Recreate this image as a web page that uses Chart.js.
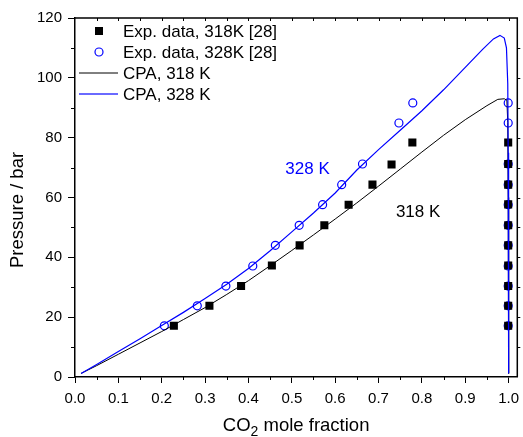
<!DOCTYPE html>
<html>
<head>
<meta charset="utf-8">
<script src="https://cdn.jsdelivr.net/npm/chart.js@4.4.1/dist/chart.umd.min.js"></script>
<style>
  html, body { margin: 0; padding: 0; background: #fff; }
  #wrap { width: 523px; height: 437px; }
</style>
</head>
<body>
<div id="wrap"><canvas id="vleChart" width="523" height="437"></canvas></div>
<script>
// experimental data, liquid side
const liq318X = [0.228, 0.310, 0.383, 0.454, 0.518, 0.575, 0.631, 0.686, 0.730, 0.778];
const liq318P = [17.1, 23.8, 30.4, 37.3, 44.0, 50.7, 57.6, 64.3, 71.0, 78.4];
const liq328X = [0.206, 0.282, 0.348, 0.410, 0.462, 0.517, 0.571, 0.615, 0.663, 0.747, 0.779];
const liq328P = [17.1, 23.8, 30.4, 37.1, 44.0, 50.7, 57.6, 64.3, 71.2, 84.9, 91.6];

// experimental data, vapour side
const vap318X = [0.999, 0.999, 0.999, 0.999, 0.999, 0.999, 0.999, 0.999, 0.999, 0.999];
const vap318P = [17.1, 23.8, 30.4, 37.3, 44.0, 50.7, 57.7, 64.3, 71.2, 78.4];
const vap328X = [0.999, 0.999, 0.999, 0.999, 0.999, 0.999, 0.999, 0.999, 0.999, 0.999, 0.999];
const vap328P = [17.1, 23.8, 30.4, 37.1, 44.0, 50.7, 57.6, 64.3, 71.2, 84.9, 91.6];

// CPA model curves
const cpa318X = [0.014, 0.05, 0.1, 0.15, 0.2, 0.25, 0.3, 0.35, 0.4, 0.45, 0.5, 0.55, 0.6, 0.65, 0.7, 0.75, 0.8, 0.85, 0.9, 0.95, 0.975, 0.99, 0.996, 0.998, 0.999, 1.0];
const cpa318P = [1.2, 3.8, 7.6, 11.4, 15.2, 19.2, 23.2, 27.6, 32.2, 37.2, 42.3, 47.5, 52.8, 58.2, 63.8, 69.5, 75.2, 80.8, 86.0, 90.7, 92.8, 93.0, 92.5, 85, 60, 1.2];
const cpa328X = [0.014, 0.05, 0.1, 0.15, 0.2, 0.25, 0.3, 0.35, 0.4, 0.45, 0.5, 0.55, 0.6, 0.65, 0.7, 0.75, 0.8, 0.85, 0.9, 0.94, 0.965, 0.98, 0.99, 0.995, 0.998, 0.999, 1.0];
const cpa328P = [1.2, 4.2, 8.5, 12.8, 17.2, 21.6, 26.2, 31.0, 36.3, 42.2, 48.5, 54.8, 61.5, 69.2, 76.0, 82.5, 89.0, 96.0, 103.5, 109.5, 113.0, 114.2, 113.3, 110.0, 98, 75, 1.2];

const legendLabels = ['Exp. data, 318K [28]', 'Exp. data, 328K [28]', 'CPA, 318 K', 'CPA, 328 K'];
const xTitle = ['CO', '2', ' mole fraction'];
const yTitle = 'Pressure / bar';

const FONT = 'Arial, "Liberation Sans", sans-serif';
const BLUE = '#0000ff';

function pts(xs, ys) {
    return xs.map((x, i) => ({ x: x, y: ys[i] }));
}

// frame, minor ticks, titles, legend and curve labels
const decorPlugin = {
    id: 'decor',
    afterDraw(chart) {
        const ctx = chart.ctx;
        const a = chart.chartArea;
        const xs = chart.scales.x;
        const ys = chart.scales.y;
        ctx.save();

        // top and right frame
        ctx.strokeStyle = '#000';
        ctx.lineWidth = 1.5;
        ctx.beginPath();
        ctx.moveTo(a.left, a.top);
        ctx.lineTo(a.right, a.top);
        ctx.lineTo(a.right, a.bottom);
        ctx.stroke();

        // minor ticks
        ctx.lineWidth = 1;
        ctx.beginPath();
        for (let v = 0.05; v < 1.0; v += 0.1) {
            const px = Math.round(xs.getPixelForValue(v)) + 0.5;
            ctx.moveTo(px, a.bottom);
            ctx.lineTo(px, a.bottom + 3);
        }
        for (let v = 10; v < 120; v += 20) {
            const py = Math.round(ys.getPixelForValue(v)) + 0.5;
            ctx.moveTo(a.left, py);
            ctx.lineTo(a.left - 4, py);
        }
        // top ticks (inward) and right ticks (outward)
        for (let v = 0.05; v < 1.02; v += 0.05) {
            const px = Math.round(xs.getPixelForValue(v)) + 0.5;
            ctx.moveTo(px, a.top);
            ctx.lineTo(px, a.top + 3);
        }
        for (let v = 10; v < 120; v += 10) {
            const py = Math.round(ys.getPixelForValue(v)) + 0.5;
            ctx.moveTo(a.right, py);
            ctx.lineTo(a.right + 3, py);
        }
        ctx.stroke();

        // axis titles
        ctx.fillStyle = '#000';
        ctx.textBaseline = 'alphabetic';
        ctx.font = '18.5px ' + FONT;
        const w1 = ctx.measureText(xTitle[0]).width;
        const w3 = ctx.measureText(xTitle[2]).width;
        ctx.font = '14px ' + FONT;
        const w2 = ctx.measureText(xTitle[1]).width;
        let tx = (a.left + a.right) / 2 - (w1 + w2 + w3) / 2;
        const ty = 431;
        ctx.font = '18.5px ' + FONT;
        ctx.textAlign = 'left';
        ctx.fillText(xTitle[0], tx, ty);
        ctx.font = '14px ' + FONT;
        ctx.fillText(xTitle[1], tx + w1, ty + 5);
        ctx.font = '18.5px ' + FONT;
        ctx.fillText(xTitle[2], tx + w1 + w2, ty);

        ctx.save();
        ctx.translate(18, 210);
        ctx.rotate(-Math.PI / 2);
        ctx.textAlign = 'center';
        ctx.textBaseline = 'middle';
        ctx.fillText(yTitle, 0, 0);
        ctx.restore();

        // legend
        ctx.font = '17px ' + FONT;
        ctx.textAlign = 'left';
        ctx.textBaseline = 'middle';
        const rows = [31, 52, 73, 94];
        ctx.fillStyle = '#000';
        ctx.fillRect(95, rows[0] - 4, 8, 8);
        ctx.strokeStyle = BLUE;
        ctx.lineWidth = 1.2;
        ctx.beginPath();
        ctx.arc(99, rows[1], 4, 0, Math.PI * 2);
        ctx.stroke();
        ctx.strokeStyle = '#000';
        ctx.lineWidth = 1;
        ctx.beginPath();
        ctx.moveTo(79, rows[2]);
        ctx.lineTo(118, rows[2]);
        ctx.stroke();
        ctx.strokeStyle = '#6a6aff';
        ctx.lineWidth = 2;
        ctx.beginPath();
        ctx.moveTo(79, rows[3]);
        ctx.lineTo(118, rows[3]);
        ctx.stroke();
        ctx.fillStyle = '#000';
        legendLabels.forEach((t, i) => ctx.fillText(t, 123, rows[i] + 1));

        // curve labels
        ctx.fillStyle = BLUE;
        ctx.fillText('328 K', xs.getPixelForValue(0.485), ys.getPixelForValue(69.3));
        ctx.fillStyle = '#000';
        ctx.fillText('318 K', xs.getPixelForValue(0.740), ys.getPixelForValue(55));

        ctx.restore();
    }
};

const canvas = document.getElementById('vleChart');
new Chart(canvas.getContext('2d'), {
    type: 'scatter',
    data: {
        datasets: [
            {
                label: 'Exp. data, 318K [28]',
                data: pts(liq318X, liq318P).concat(pts(vap318X, vap318P)),
                pointStyle: 'rect',
                pointRadius: 5.7,
                backgroundColor: '#000',
                borderColor: '#000',
                borderWidth: 0,
                order: 2
            },
            {
                label: 'Exp. data, 328K [28]',
                data: pts(liq328X, liq328P).concat(pts(vap328X, vap328P)),
                pointStyle: 'circle',
                pointRadius: 4,
                backgroundColor: 'rgba(0,0,0,0)',
                borderColor: BLUE,
                borderWidth: 1.2,
                order: 3
            },
            {
                label: 'CPA, 318 K',
                data: pts(cpa318X, cpa318P),
                showLine: true,
                pointRadius: 0,
                borderColor: '#000',
                borderWidth: 1,
                tension: 0,
                order: 1
            },
            {
                label: 'CPA, 328 K',
                data: pts(cpa328X, cpa328P),
                showLine: true,
                pointRadius: 0,
                borderColor: BLUE,
                borderWidth: 1.2,
                tension: 0,
                order: 0
            }
        ]
    },
    options: {
        responsive: false,
        animation: false,
        events: [],
        layout: { padding: { top: 18, right: 4, left: 0, bottom: 0 } },
        plugins: {
            legend: { display: false },
            tooltip: { enabled: false }
        },
        scales: {
            x: {
                type: 'linear',
                min: 0,
                max: 1.02,
                afterFit: function(scale) {
                    scale.height = 60;
                    scale.paddingLeft = 0;
                    scale.paddingRight = 0;
                },
                border: { display: true, color: '#000', width: 1.5 },
                grid: { display: true, drawOnChartArea: false, drawTicks: true, tickLength: 6, tickColor: '#000', tickWidth: 1 },
                ticks: {
                    stepSize: 0.1,
                    includeBounds: false,
                    autoSkip: false,
                    maxRotation: 0,
                    padding: 7,
                    color: '#000',
                    font: { family: FONT, size: 15 },
                    callback: function(value) { return value.toFixed(1); }
                }
            },
            y: {
                type: 'linear',
                min: 0,
                max: 120,
                afterFit: function(scale) {
                    scale.width = 75;
                    scale.paddingTop = 0;
                    scale.paddingBottom = 0;
                },
                border: { display: true, color: '#000', width: 1.5 },
                grid: { display: true, drawOnChartArea: false, drawTicks: true, tickLength: 7, tickColor: '#000', tickWidth: 1 },
                ticks: {
                    stepSize: 20,
                    padding: 6,
                    color: '#000',
                    font: { family: FONT, size: 15 },
                    callback: function(value) { return value; }
                }
            }
        }
    },
    plugins: [decorPlugin]
});
</script>
</body>
</html>
